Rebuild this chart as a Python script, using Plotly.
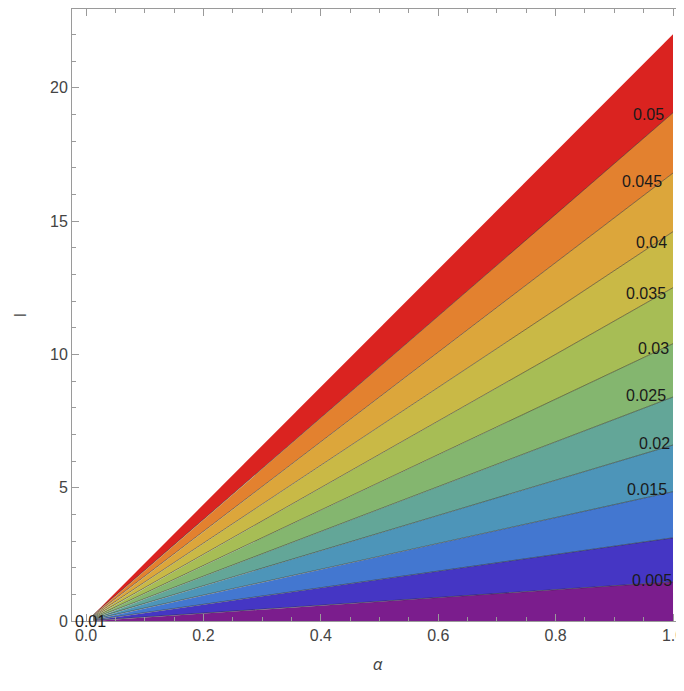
import plotly.graph_objects as go

# contour levels and where each contour line meets alpha = 1 (slope l/alpha)
levels = [0.005, 0.01, 0.015, 0.02, 0.025, 0.03, 0.035, 0.04, 0.045, 0.05]
l_at_alpha1 = [1.47, 3.12, 4.85, 6.6, 8.4, 10.4, 12.5, 14.6, 16.8, 19.06]
domain_top_l = 22.0          # upper edge of defined region at alpha = 1
alpha_min = 0.012            # plotted domain starts here
alpha_max = 1.0

band_colors = ["#7B1D8D", "#4536C4", "#4377D0", "#4D95B9", "#63A698",
               "#84B66F", "#A7BD55", "#C9B946", "#DCA63B", "#E3812F", "#DA2320"]

label_alpha = [0.964, 0.007, 0.956, 0.968, 0.954, 0.966, 0.954, 0.964, 0.947, 0.959]
label_l = [1.53, 0.0, 4.94, 6.66, 8.45, 10.21, 12.27, 14.21, 16.49, 19.0]

x_ticks = [0.0, 0.2, 0.4, 0.6, 0.8, 1.0]
y_ticks = [0, 5, 10, 15, 20]

fig = go.Figure()

bounds = [0.0] + l_at_alpha1 + [domain_top_l]
for i, col in enumerate(band_colors):
    lo, hi = bounds[i], bounds[i + 1]
    fig.add_trace(go.Scatter(
        x=[alpha_min, alpha_max, alpha_max, alpha_min, alpha_min],
        y=[lo * alpha_min, lo, hi, hi * alpha_min, lo * alpha_min],
        mode="lines", fill="toself", fillcolor=col,
        line=dict(width=0, color=col), hoverinfo="skip", showlegend=False))

for s in l_at_alpha1:
    fig.add_trace(go.Scatter(
        x=[alpha_min, alpha_max], y=[s * alpha_min, s],
        mode="lines", line=dict(color="rgba(40,40,30,0.6)", width=0.9),
        hoverinfo="skip", showlegend=False))

for lv, la, ll in zip(levels, label_alpha, label_l):
    fig.add_annotation(x=la, y=ll, text=f"{lv:g}", showarrow=False,
                       font=dict(size=16, color="#1a1a1a",
                                 family="Liberation Sans, Arial, sans-serif"))

axis_common = dict(
    showgrid=False, zeroline=False, showline=True, linecolor="#9a9a9a",
    linewidth=1, mirror="ticks", ticks="inside", ticklen=7, tickcolor="#9a9a9a",
    automargin=False, ticklabeloverflow="allow",
    tickfont=dict(size=16, color="#444444", family="Liberation Sans, Arial, sans-serif"),
)

fig.update_xaxes(range=[-0.024, 1.017], tickvals=x_ticks,
                 ticktext=[f"{v:.1f}" for v in x_ticks],
                 minor=dict(dtick=0.05, ticks="inside", ticklen=4, tickcolor="#9a9a9a"),
                 title=dict(text="<i>α</i>", standoff=14,
                            font=dict(size=17, color="#444444")),
                 **axis_common)
fig.update_yaxes(range=[0, 22.95], tickvals=y_ticks,
                 minor=dict(dtick=1, ticks="inside", ticklen=4, tickcolor="#9a9a9a"),
                 title=dict(text="l", standoff=26,
                            font=dict(size=17, color="#444444")),
                 **axis_common)

# the page adds an 8px body margin, so the figure is sized to fit inside it
fig.update_layout(
    width=676, height=683,
    margin=dict(l=64, r=1, t=1, b=70, autoexpand=False),
    paper_bgcolor="white", plot_bgcolor="white",
)

fig.write_html("out.html")
